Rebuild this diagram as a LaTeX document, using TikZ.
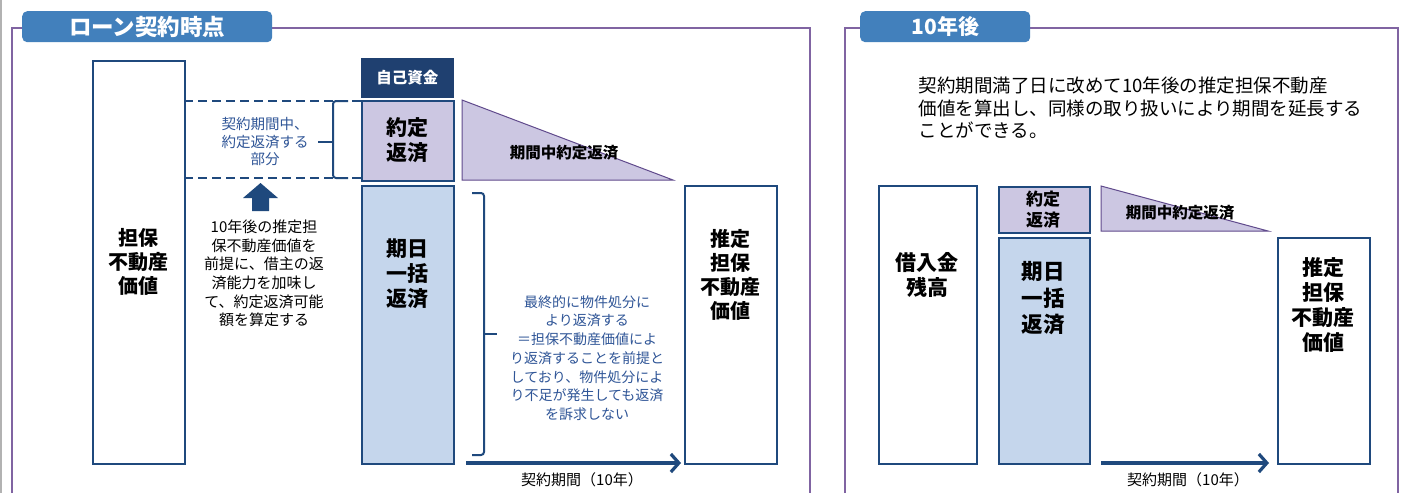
\documentclass[tikz,border=0pt]{standalone}
\usepackage{fontspec}
\setmainfont{Noto Sans CJK JP}
\usetikzlibrary{arrows.meta}
\definecolor{navy}{RGB}{31,73,125}
\definecolor{darknavy}{RGB}{31,64,112}
\definecolor{tabblue}{RGB}{66,128,188}
\definecolor{framepurple}{RGB}{128,100,162}
\definecolor{lav}{RGB}{204,199,226}
\definecolor{ltblue}{RGB}{197,214,236}
\definecolor{bluetext}{RGB}{47,85,151}
\definecolor{tripurple}{RGB}{96,74,140}
\tikzset{
  box/.style={draw=navy, line width=2.4pt, inner sep=0pt, anchor=north west},
  whitebox/.style={box, fill=white},
  lavbox/.style={box, fill=lav},
  bluebox/.style={box, fill=ltblue},
  tab/.style={fill=tabblue, rounded corners=5pt, inner sep=0pt, anchor=north west},
  tabtext/.style={text=white, font=\fontsize{22.5}{24}\selectfont\bfseries},
  frame/.style={draw=framepurple, line width=1.3pt},
  bigtext/.style={align=center, font=\fontsize{20}{24}\selectfont\bfseries},
  smalltext/.style={align=center, font=\fontsize{15}{18.7}\selectfont},
  tri/.style={fill=lav, draw=tripurple, line width=1pt},
  tritext/.style={font=\fontsize{15.5}{18}\selectfont\bfseries},
  dashline/.style={draw=navy, line width=2pt, dash pattern=on 9pt off 5pt},
  bracket/.style={draw=navy, line width=2pt, rounded corners=3pt},
  period/.style={draw=navy, line width=3.2pt, -{Straight Barb[length=8pt,width=18pt,line width=3.2pt]}},
  periodtext/.style={font=\fontsize{15}{16}\selectfont}
}
\begin{document}
\begin{tikzpicture}[x=1pt,y=-1pt]
\useasboundingbox (0,0) rectangle (1405,493);
\fill[white] (0,0) rectangle (1405,493);
\draw[gray!60, line width=1.5pt] (1,0) -- (1,493);

% ===== frames =====
\draw[frame] (12,493) -- (12,28) -- (810,28) -- (810,493);
\draw[frame] (845,493) -- (845,28) -- (1398,28) -- (1398,493);

\node[tab, minimum width=250pt, minimum height=31pt] (tab1) at (22,11) {};
\node[tabtext] (tab1t) at (tab1.center) {ローン契約時点};
\node[tab, minimum width=170pt, minimum height=31pt] (tab2) at (860,11) {};
\node[tabtext, font=\fontsize{21}{24}\selectfont\bfseries] (tab2t) at (tab2.center) {10年後};

% ===== left panel =====
\node[whitebox, minimum width=92pt, minimum height=403pt] (collat) at (92,60) {};
\node[bigtext] (collatt) at (138,262) {担保\\不動産\\価値};

\node[box, draw=darknavy, fill=darknavy, line width=0.8pt, minimum width=92pt, minimum height=39pt] (own) at (361,58) {};
\node[text=white, font=\fontsize{15.5}{18}\selectfont\bfseries] (ownt) at (own.center) {自己資金};

\node[lavbox, minimum width=92pt, minimum height=80pt] (yaku) at (361,100) {};
\node[bigtext, font=\fontsize{21}{25}\selectfont\bfseries] (yakut) at (407,140) {約定\\返済};

\node[bluebox, minimum width=92pt, minimum height=278pt] (kijitsu) at (361,185) {};
\node[bigtext, font=\fontsize{21}{25}\selectfont\bfseries] (kijitsut) at (407,274) {期日\\一括\\返済};

\node[whitebox, minimum width=92pt, minimum height=278pt] (est) at (684,185) {};
\node[bigtext] (estt) at (730,275) {推定\\担保\\不動産\\価値};

% dashed guide lines
\coordinate (dtL) at (184,101);
\coordinate (dtR) at (361,101);
\coordinate (dbL) at (184,178);
\coordinate (dbR) at (361,178);
\draw[dashline] (dtL) -- (dtR);
\draw[dashline] (dbL) -- (dbR);

% left bracket
\coordinate (lbTop) at (348,101);
\coordinate (lbBot) at (348,178);
\coordinate (lbMid) at (333,142);
\coordinate (lbTip) at (318,142);
\draw[bracket] (lbTop) -- (333,101) -- (333,178) -- (lbBot);
\draw[navy, line width=2pt] (lbMid) -- (lbTip);
\node[smalltext, text=bluetext, font=\fontsize{14.5}{17.5}\selectfont] (partt) at (265,142) {契約期間中、\\約定返済する\\部分};

% up block arrow
\fill[navy] (260.5,183) -- (278,198) -- (269,198) -- (269,211) -- (252,211) -- (252,198) -- (243,198) -- cycle;
\node[smalltext] (basist) at (264,273.5) {10年後の推定担\\保不動産価値を\\前提に、借主の返\\済能力を加味し\\て、約定返済可能\\額を算定する};

% triangle
\coordinate (t1a) at (462,100);
\coordinate (t1b) at (462,180);
\coordinate (t1c) at (673,180);
\draw[tri] (t1a) -- (t1c) -- (t1b) -- cycle;
\node[tritext] (t1t) at (564,153) {期間中約定返済};

% right bracket
\coordinate (rbTop) at (472,193);
\coordinate (rbBot) at (472,455);
\coordinate (rbMid) at (484,334);
\coordinate (rbTip) at (497,334);
\draw[bracket] (rbTop) -- (484,193) -- (484,455) -- (rbBot);
\draw[navy, line width=2pt] (rbMid) -- (rbTip);
\node[smalltext, text=bluetext, font=\fontsize{14}{18.7}\selectfont] (finalt) at (587,358) {最終的に物件処分に\\より返済する\\＝担保不動産価値によ\\り返済することを前提と\\しており、物件処分によ\\り不足が発生しても返済\\を訴求しない};

% period arrow
\coordinate (p1s) at (466,463);
\coordinate (p1e) at (681,463);
\draw[period] (p1s) -- (p1e);
\node[periodtext] (p1t) at (582,480) {契約期間（10年）};

% ===== right panel =====
\node[align=left, anchor=west, font=\fontsize{18.5}{22.5}\selectfont] (desc) at (915,108) {契約期間満了日に改めて10年後の推定担保不動産\\価値を算出し、同様の取り扱いにより期間を延長する\\ことができる。};

\node[whitebox, minimum width=98pt, minimum height=278pt] (loan) at (878,185) {};
\node[bigtext, font=\fontsize{21}{25}\selectfont\bfseries] (loant) at (927,275) {借入金\\残高};

\node[lavbox, minimum width=91pt, minimum height=46pt] (yaku2) at (998,186) {};
\node[bigtext, font=\fontsize{17}{21}\selectfont\bfseries] (yaku2t) at (1043,209.5) {約定\\返済};

\node[bluebox, minimum width=91pt, minimum height=226pt] (kijitsu2) at (998,237) {};
\node[bigtext, font=\fontsize{21.5}{26.5}\selectfont\bfseries] (kijitsu2t) at (1043,298.5) {期日\\一括\\返済};

\node[whitebox, minimum width=92pt, minimum height=226pt] (est2) at (1277,237) {};
\node[bigtext, font=\fontsize{21}{25}\selectfont\bfseries] (est2t) at (1323,305) {推定\\担保\\不動産\\価値};

\coordinate (t2a) at (1101,186);
\coordinate (t2b) at (1101,231);
\coordinate (t2c) at (1268,231);
\draw[tri] (t2a) -- (t2c) -- (t2b) -- cycle;
\node[tritext] (t2t) at (1180,213) {期間中約定返済};

\coordinate (p2s) at (1101,463);
\coordinate (p2e) at (1269,463);
\draw[period] (p2s) -- (p2e);
\node[periodtext] (p2t) at (1188,480) {契約期間（10年）};
\end{tikzpicture}
\end{document}
